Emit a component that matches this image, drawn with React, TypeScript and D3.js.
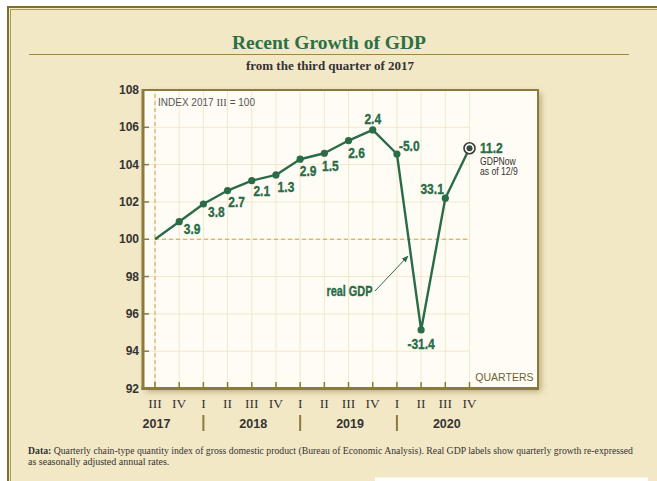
import React from 'react';
import * as d3 from 'd3';

const quarters = ['III', 'IV', 'I', 'II', 'III', 'IV', 'I', 'II', 'III', 'IV', 'I', 'II', 'III', 'IV'];
const years = ['2017', '2018', '2019', '2020'];
const yearCenterIdx = [0, 4, 8, 12];
const yearSepIdx = [2, 6, 10];
const gdpIndex = [100, 100.94, 101.89, 102.61, 103.14, 103.45, 104.29, 104.61, 105.29, 105.86, 104.57, 95.14, 102.2, 104.88];
const growthLabels = ['', '3.9', '3.8', '2.7', '2.1', '1.3', '2.9', '1.5', '2.6', '2.4', '-5.0', '-31.4', '33.1', '11.2'];
const yTicks = [92, 94, 96, 98, 100, 102, 104, 106, 108];

// label placement (layout only)
const labelPlace: [number, number, string][] = [
  [0, 0, 'middle'],
  [13, 12, 'middle'],
  [13, 13, 'middle'],
  [9, 16, 'middle'],
  [10, 15.5, 'middle'],
  [10, 17, 'middle'],
  [8, 16.5, 'middle'],
  [6, 17.5, 'middle'],
  [8, 17.5, 'middle'],
  [0, -6, 'middle'],
  [2, -2.5, 'start'],
  [0, 19, 'middle'],
  [-1.5, -4, 'end'],
  [10.5, 5, 'start'],
];

const GREEN = '#2a6b48';
const OLIVE = '#8a7b3c';
const SANS = '"Liberation Sans", Arial, sans-serif';
const SERIF = '"Liberation Serif", "DejaVu Serif", serif';

function NText(props: {
  x: number; y: number; anchor?: string; size: number; bold?: boolean; fill: string; sx?: number; heavy?: boolean; children: React.ReactNode;
}) {
  const sx = props.sx ?? 0.8;
  return (
    <text
      transform={`translate(${props.x},${props.y}) scale(${sx},1)`}
      textAnchor={(props.anchor || 'start') as any}
      fontFamily={SANS}
      fontWeight={props.bold ? 'bold' : 'normal'}
      fontSize={props.size}
      fill={props.fill}
      stroke={props.heavy ? props.fill : 'none'}
      strokeWidth={props.heavy ? 0.35 : 0}
    >
      {props.children}
    </text>
  );
}

export default function App() {
  const x = d3.scaleLinear().domain([0, quarters.length - 1]).range([155, 469.5]);
  const y = d3.scaleLinear().domain([92, 108]).range([388.5, 90]);
  const plotL = 143, plotR = 538, plotT = 90, plotB = 388.5;
  const lastX = x(quarters.length - 1);

  const line = d3.line<number>().x((_, i) => x(i)).y((d) => y(d));
  const n = gdpIndex.length;

  return (
    <svg width={657} height={481} style={{ position: 'fixed', left: 0, top: 0 }}>
      <defs>
        <filter id="shadow" x="-10%" y="-10%" width="130%" height="130%">
          <feDropShadow dx="3" dy="3" stdDeviation="3" floodColor="#6b5a20" floodOpacity="0.45" />
        </filter>
        <marker id="arrow" viewBox="0 0 10 10" refX="9" refY="5" markerWidth="7" markerHeight="7" orient="auto">
          <path d="M0,1 L10,5 L0,9 z" fill={GREEN} />
        </marker>
      </defs>
      <rect x={0} y={0} width={657} height={481} fill="#ffffff" />
      <rect x={8} y={7} width={700} height={520} fill="#f3e8c6" stroke="#7d6e2e" strokeWidth={2} />
      <rect x={10.5} y={9.5} width={700} height={520} fill="none" stroke="#a99a57" strokeWidth={1} />

      {/* title */}
      <text x={329} y={49} textAnchor="middle" fontFamily={SERIF} fontWeight="bold" fontSize={19.5} fill="#2c7048">
        Recent Growth of GDP
      </text>
      <line x1={29} x2={629} y1={54.5} y2={54.5} stroke="#9a8a45" strokeWidth={1.2} />
      <text x={330} y={70} textAnchor="middle" fontFamily={SERIF} fontWeight="bold" fontSize={13} fill="#333">
        from the third quarter of 2017
      </text>

      {/* plot box */}
      <rect x={plotL} y={plotT} width={plotR - plotL} height={plotB - plotT} fill="#fefcf4" filter="url(#shadow)" />
      {quarters.map((q, i) => (
        <line key={'vg' + i} x1={x(i)} x2={x(i)} y1={plotT} y2={plotB} stroke="#f1e9cc" strokeWidth={1} />
      ))}
      {yTicks.map((t) => (
        <line key={'hg' + t} x1={plotL} x2={lastX} y1={y(t)} y2={y(t)} stroke="#f1e9cc" strokeWidth={1} />
      ))}
      <rect x={plotL} y={plotT} width={plotR - plotL} height={plotB - plotT} fill="none" stroke={OLIVE} strokeWidth={2} />

      {/* dashed reference lines */}
      <line x1={x(0)} x2={x(0)} y1={plotT + 4} y2={plotB} stroke="#c9a44a" strokeWidth={1} strokeDasharray="4,3" />
      <line x1={x(0)} x2={lastX} y1={y(100)} y2={y(100)} stroke="#c9a44a" strokeWidth={1} strokeDasharray="4,3" />

      {/* axes */}
      <line x1={plotL} x2={plotL} y1={plotT - 1} y2={plotB + 1.5} stroke={OLIVE} strokeWidth={3} />
      <line x1={plotL - 1.5} x2={plotR + 1} y1={plotB} y2={plotB} stroke={OLIVE} strokeWidth={3} />
      {yTicks.map((t) => (
        <g key={'yt' + t}>
          <line x1={plotL} x2={plotL + 6} y1={y(t)} y2={y(t)} stroke={OLIVE} strokeWidth={1.5} />
          <text x={139} y={y(t) + 4} textAnchor="end" fontFamily={SANS} fontWeight="bold" fontSize={12} fill="#333">
            {t}
          </text>
        </g>
      ))}
      {quarters.map((q, i) => (
        <g key={'xt' + i}>
          <line x1={x(i)} x2={x(i)} y1={plotB} y2={plotB - 6.5} stroke={OLIVE} strokeWidth={1.5} />
          <text x={x(i)} y={408} textAnchor="middle" fontFamily={SERIF} fontSize={13.5} fill="#333">
            {q}
          </text>
        </g>
      ))}
      {years.map((yr, k) => (
        <text key={yr} x={x(yearCenterIdx[k]) + 1.5} y={427.5} textAnchor="middle" fontFamily={SANS} fontWeight="bold" fontSize={12.5} fill="#333">
          {yr}
        </text>
      ))}
      {yearSepIdx.map((i) => (
        <line key={'sep' + i} x1={x(i)} x2={x(i)} y1={415} y2={431} stroke={OLIVE} strokeWidth={2} />
      ))}

      <text x={158} y={106} fontFamily={SANS} fontSize={10} fill="#555">
        INDEX 2017 <tspan fontFamily={SERIF} fontSize={10.5}>III</tspan> = 100
      </text>
      <text x={533.5} y={381} textAnchor="end" fontFamily={SANS} fontSize={10.5} fill="#6b6234">QUARTERS</text>

      {/* series */}
      <path d={line(gdpIndex) || ''} fill="none" stroke={GREEN} strokeWidth={2.4} strokeLinejoin="round" />
      {gdpIndex.slice(1, n - 1).map((v, j) => (
        <circle key={'pt' + j} cx={x(j + 1)} cy={y(v)} r={3.6} fill={GREEN} />
      ))}
      <circle cx={x(n - 1)} cy={y(gdpIndex[n - 1])} r={5.5} fill="#fff" stroke="#3b3b3b" strokeWidth={1.6} />
      <circle cx={x(n - 1)} cy={y(gdpIndex[n - 1])} r={3} fill="#2f4f3c" />

      {growthLabels.map((lab, i) =>
        lab ? (
          <NText
            key={'lab' + i}
            x={x(i) + labelPlace[i][0]}
            y={y(gdpIndex[i]) + labelPlace[i][1]}
            anchor={labelPlace[i][2]}
            size={15}
            bold
            heavy
            fill={GREEN}
            sx={0.8}
          >
            {lab}
          </NText>
        ) : null
      )}
      <NText x={x(n - 1) + 10.5} y={y(gdpIndex[n - 1]) + 17} size={10} fill="#333" sx={0.86}>GDPNow</NText>
      <NText x={x(n - 1) + 10.5} y={y(gdpIndex[n - 1]) + 26.5} size={10} fill="#333" sx={0.86}>as of 12/9</NText>

      <NText x={372.5} y={296} anchor="end" size={14} bold heavy fill={GREEN} sx={0.78}>real GDP</NText>
      <line x1={375} y1={291} x2={408} y2={256} stroke={GREEN} strokeWidth={1} markerEnd="url(#arrow)" />

      {/* footnote */}
      <text x={28} y={453.5} fontFamily={SERIF} fontSize={10} fill="#333" textLength={605} lengthAdjust="spacingAndGlyphs">
        <tspan fontWeight="bold">Data:</tspan> Quarterly chain-type quantity index of gross domestic product (Bureau of Economic Analysis). Real GDP labels show quarterly growth re-expressed
      </text>
      <text x={28} y={464.5} fontFamily={SERIF} fontSize={10} fill="#333">as seasonally adjusted annual rates.</text>

      <rect x={375} y={477.5} width={273} height={10} fill="#ffffff" />
    </svg>
  );
}
